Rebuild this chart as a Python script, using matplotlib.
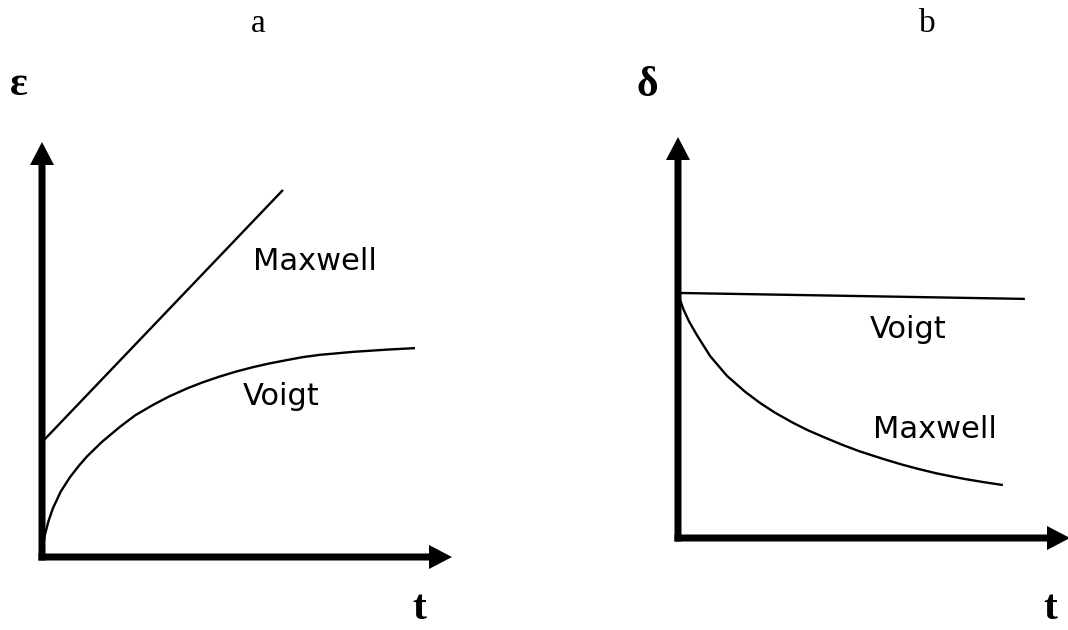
import numpy as np
import matplotlib
matplotlib.use("Agg")
import matplotlib.pyplot as plt

# creep (a): strain vs time
t_max_a = [0.0, 6.46]
eps_max_a = [3.08, 9.84]
t_voigt_a = [0.0, 0.01, 0.03, 0.08, 0.17, 0.29, 0.5, 0.75, 1.0, 1.21, 1.6,
             2.09, 2.5, 2.98, 3.4, 3.89, 4.3, 4.77, 5.2, 5.66, 6.1, 6.57,
             7.0, 7.45, 7.9, 8.34, 8.8, 9.25, 10.0]
eps_voigt_a = [0.0, 0.15, 0.30, 0.60, 0.95, 1.30, 1.75, 2.14, 2.46, 2.70, 3.08,
               3.49, 3.80, 4.08, 4.30, 4.52, 4.68, 4.84, 4.97, 5.09, 5.19, 5.28,
               5.36, 5.42, 5.46, 5.50, 5.53, 5.56, 5.60]

# relaxation (b): stress vs time
t_voigt_b = [0.0, 9.30]
d_voigt_b = [6.57, 6.41]
t_max_b = [0.0, 0.05, 0.15, 0.3, 0.5, 0.86, 1.31, 1.8, 2.2, 2.6, 3.08, 3.5,
           3.99, 4.45, 4.88, 5.5, 6.0, 6.41, 6.9, 7.29, 7.7, 8.18, 8.71]
d_max_b = [6.57, 6.40, 6.12, 5.80, 5.45, 4.88, 4.35, 3.92, 3.62, 3.36, 3.09, 2.88,
           2.67, 2.48, 2.32, 2.12, 1.97, 1.86, 1.74, 1.66, 1.58, 1.50, 1.42]

W, H = 1068, 630
PX = 37.3  # pixels per data unit, same on both axes

fig = plt.figure(figsize=(W / 100, H / 100), dpi=100)


def make_axes(x0, y0, x1, y1):
    # x0,y0 = origin pixel, x1 = right arrow tip, y1 = top arrow tip
    ax = fig.add_axes([x0 / W, (H - y0) / H, (x1 - x0) / W, (y0 - y1) / H])
    ax.set_xlim(0, (x1 - x0) / PX)
    ax.set_ylim(0, (y0 - y1) / PX)
    ax.axis("off")
    xm = ax.get_xlim()[1]
    ym = ax.get_ylim()[1]
    sw = 7 / PX
    hw = 24 / PX
    hl = 23 / PX
    ax.arrow(0, -sw / 2, 0, ym + sw / 2, width=sw, head_width=hw, head_length=hl,
             length_includes_head=True, color="black", clip_on=False, lw=0)
    ax.arrow(-sw / 2, 0, xm + sw / 2, 0, width=sw, head_width=hw, head_length=hl,
             length_includes_head=True, color="black", clip_on=False, lw=0)
    return ax


line = dict(color="black", lw=1.7, solid_joinstyle="round", solid_capstyle="butt")
lab = dict(fontsize=22, family="DejaVu Sans", va="center", ha="left")

ax1 = make_axes(42, 557, 452, 142)
ax1.plot(t_max_a, eps_max_a, **line)
ax1.plot(t_voigt_a, eps_voigt_a, **line)
ax1.text(5.66, 7.91, "Maxwell", **lab)
ax1.text(5.39, 4.29, "Voigt", **lab)

ax2 = make_axes(678, 538, 1070, 137)
ax2.plot(t_voigt_b, d_voigt_b, **line)
ax2.plot(t_max_b, d_max_b, **line)
ax2.text(5.15, 5.58, "Voigt", **lab)
ax2.text(5.23, 2.90, "Maxwell", **lab)

serif = "Liberation Serif"
fig.text(258 / W, 1 - 32 / H, "a", fontsize=24, family=serif, ha="center", va="baseline")
fig.text(927 / W, 1 - 32 / H, "b", fontsize=24, family=serif, ha="center", va="baseline")
fig.text(19 / W, 1 - 95 / H, "ε", fontsize=30, family=serif, weight="bold", ha="center", va="baseline")
fig.text(647 / W, 1 - 96 / H, "δ", fontsize=30, family=serif, weight="bold", ha="center", va="baseline")
fig.text(419 / W, 1 - 628 / H, "t", fontsize=30, family=serif, weight="bold", ha="center", va="bottom")
fig.text(1050 / W, 1 - 628 / H, "t", fontsize=30, family=serif, weight="bold", ha="center", va="bottom")

fig.savefig("out.png", dpi=100, facecolor="white")
